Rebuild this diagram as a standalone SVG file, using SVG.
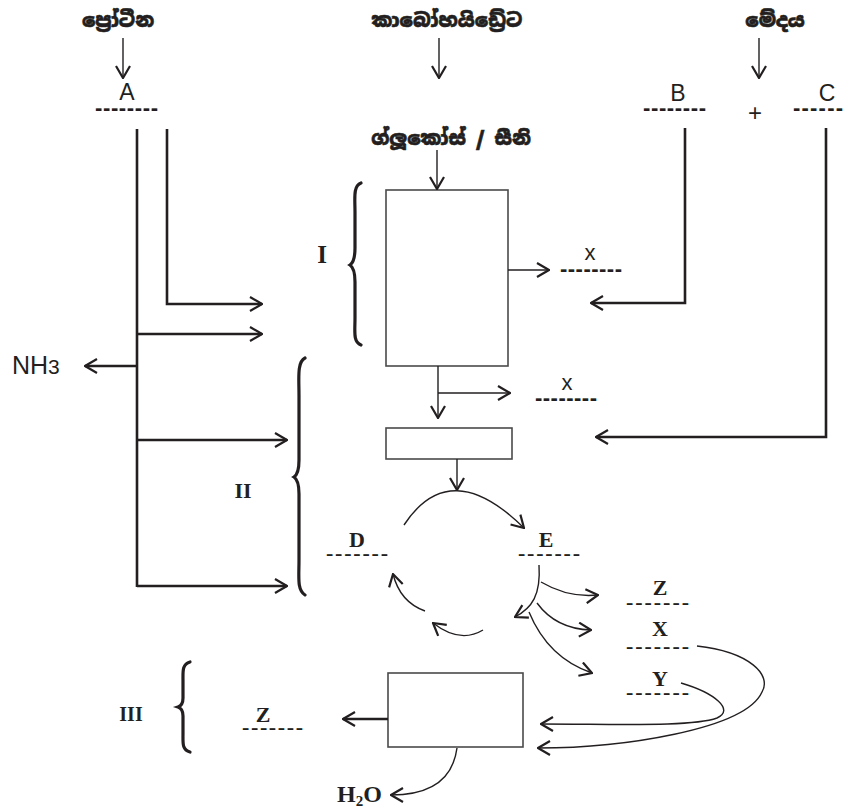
<svg xmlns="http://www.w3.org/2000/svg" width="845" height="809" viewBox="0 0 845 809">
<defs>
<marker id="ah" viewBox="0 0 14 16" refX="13" refY="8" markerWidth="14" markerHeight="16" orient="auto" markerUnits="userSpaceOnUse">
<path d="M1,1 L13,8 L1,15" fill="none" stroke="#231f20" stroke-width="2.2"/>
</marker>
<style>
.si{font-family:"Noto Sans Sinhala","Noto Serif Sinhala","Iskoola Pota",sans-serif;font-weight:900;font-size:19px;fill:#231f20;text-anchor:middle;stroke:#231f20;stroke-width:0.5}
.sans{font-family:"Liberation Sans",Arial,sans-serif;fill:#231f20;text-anchor:middle}
.ser{font-family:"Liberation Serif","Times New Roman",serif;font-weight:bold;fill:#231f20;text-anchor:middle}
.st{text-anchor:start}
.dsans{font-family:"Liberation Sans",Arial,sans-serif;font-weight:bold;font-size:22px;fill:#231f20}
.dser{font-family:"Liberation Serif","Times New Roman",serif;font-weight:bold;font-size:22px;fill:#231f20}
.ln{fill:none;stroke:#231f20;stroke-width:1.4}
.lt{fill:none;stroke:#231f20;stroke-width:2.6}
.bx{fill:#fff;stroke:#4a4a4a;stroke-width:1.6}
.br{fill:none;stroke:#231f20;stroke-width:3.2;stroke-linecap:round}
</style>
</defs>
<rect width="845" height="809" fill="#fff"/>

<g id="protein"><text class="si" x="118" y="27">ප්‍රෝටීන</text></g>
<g id="carbohydrate"><text class="si" x="447" y="27">කාබෝහයිඩ්‍රේට</text></g>
<g id="lipid"><text class="si" x="775" y="27">මේදය</text></g>
<g id="glucose"><text class="si" x="451" y="145">ග්ලූකෝස් / සීනි</text></g>

<g id="nodeA"><text class="sans" x="127" y="100" font-size="23">A</text><text class="dsans" x="95" y="115" textLength="63" lengthAdjust="spacing">--------</text></g>
<g id="nodeB"><text class="sans" x="678" y="101" font-size="23">B</text><text class="dsans" x="643" y="115" textLength="63" lengthAdjust="spacing">--------</text></g>
<g id="plus"><text class="sans" x="755" y="121" font-size="24">+</text></g>
<g id="nodeC"><text class="sans" x="827" y="101" font-size="23">C</text><text class="dsans" x="793" y="115" textLength="50" lengthAdjust="spacing">------</text></g>

<g id="box1"><rect class="bx" x="386" y="190" width="122" height="176"/></g>
<g id="box2"><rect class="bx" x="386" y="428" width="126" height="31"/></g>
<g id="box3"><rect class="bx" x="388" y="673" width="135" height="74"/></g>

<g id="x1"><text class="sans" x="590" y="260" font-size="22">x</text><text class="dsans" x="560" y="276" textLength="62" lengthAdjust="spacing">--------</text></g>
<g id="x2"><text class="sans" x="567" y="390" font-size="22">x</text><text class="dsans" x="535" y="405" textLength="62" lengthAdjust="spacing">--------</text></g>

<g id="nh3"><text class="sans st" x="12" y="374" font-size="25">NH<tspan font-size="21">3</tspan></text></g>

<g id="labelI"><text class="ser" x="322" y="263" font-size="25">I</text></g>
<g id="labelII"><text class="ser" x="243" y="498" font-size="22">II</text></g>
<g id="labelIII"><text class="ser" x="131" y="721" font-size="20">III</text></g>

<g id="nodeD"><text class="ser" x="357" y="547" font-size="22">D</text><text class="dser" x="326" y="560" textLength="62" lengthAdjust="spacing">-------</text></g>
<g id="nodeE"><text class="ser" x="546" y="547" font-size="22">E</text><text class="dser" x="518" y="560" textLength="62" lengthAdjust="spacing">-------</text></g>
<g id="nodeZ"><text class="ser" x="660" y="595" font-size="22">Z</text><text class="dser" x="626" y="609" textLength="63" lengthAdjust="spacing">-------</text></g>
<g id="nodeX"><text class="ser" x="660" y="636" font-size="22">X</text><text class="dser" x="626" y="653" textLength="63" lengthAdjust="spacing">-------</text></g>
<g id="nodeY"><text class="ser" x="660" y="686" font-size="22">Y</text><text class="dser" x="626" y="699" textLength="63" lengthAdjust="spacing">-------</text></g>
<g id="nodeZ2"><text class="ser" x="263" y="722" font-size="22">Z</text><text class="dser" x="242" y="734" textLength="61" lengthAdjust="spacing">-------</text></g>
<g id="h2o"><text class="ser st" x="337" y="802" font-size="24">H<tspan font-size="15" dy="4">2</tspan><tspan dy="-4">O</tspan></text></g>

<g id="braces">
<path class="br" d="M361,183 C353,186 355,198 355,212 L355,248 C355,259 353,263 350,265 C353,267 355,271 355,282 L355,318 C355,332 353,342 361,345"/>
<path class="br" d="M305,358 C297,362 299,378 299,395 L299,460 C299,471 297,475 294,477 C297,479 299,483 299,494 L299,560 C299,578 297,590 305,595"/>
<path class="br" d="M190,662 C182,664 183,672 183,680 L183,698 C183,703 181,706 178,707 C181,708 183,711 183,716 L183,734 C183,743 182,750 190,752"/>
</g>

<g id="connectors">
<line class="ln" x1="123" y1="38" x2="123" y2="78" marker-end="url(#ah)"/>
<line class="ln" x1="439" y1="38" x2="439" y2="78" marker-end="url(#ah)"/>
<line class="ln" x1="759" y1="38" x2="759" y2="78" marker-end="url(#ah)"/>
<line class="ln" x1="437" y1="150" x2="437" y2="189" marker-end="url(#ah)"/>
<line class="ln" x1="508" y1="270" x2="549" y2="270" marker-end="url(#ah)"/>
<polyline class="lt" points="685,128 685,303 591,303" marker-end="url(#ah)"/>
<polyline class="lt" points="826,128 826,437 596,437" marker-end="url(#ah)"/>
<line class="lt" x1="137" y1="129" x2="137" y2="587"/>
<polyline class="lt" points="167,129 167,304 262,304" marker-end="url(#ah)"/>
<line class="lt" x1="137" y1="334" x2="262" y2="334" marker-end="url(#ah)"/>
<line class="lt" x1="137" y1="366" x2="85" y2="366" marker-end="url(#ah)"/>
<line class="lt" x1="137" y1="440" x2="287" y2="440" marker-end="url(#ah)"/>
<line class="lt" x1="137" y1="586" x2="287" y2="586" marker-end="url(#ah)"/>
<line class="ln" x1="438" y1="366" x2="438" y2="418" marker-end="url(#ah)"/>
<line class="ln" x1="438" y1="393" x2="510" y2="393" marker-end="url(#ah)"/>
<line class="ln" x1="457" y1="459" x2="457" y2="490" marker-end="url(#ah)"/>
<path class="ln" d="M404,525 Q450,455 524,528" marker-end="url(#ah)"/>
<path class="ln" d="M539,565 C541,595 532,608 515,617" marker-end="url(#ah)"/>
<path class="ln" d="M541,582 Q568,598 598,595" marker-end="url(#ah)"/>
<path class="ln" d="M537,603 Q556,629 591,630" marker-end="url(#ah)"/>
<path class="ln" d="M529,612 Q548,658 592,673" marker-end="url(#ah)"/>
<path class="ln" d="M425,611 Q400,602 393,574" marker-end="url(#ah)"/>
<path class="ln" d="M483,630 Q460,644 433,623" marker-end="url(#ah)"/>
<path class="ln" d="M697,646 C750,652 772,675 762,692 C745,730 620,748 538,748" marker-end="url(#ah)"/>
<path class="ln" d="M681,683 C715,693 735,710 717,718 C692,727 620,724 541,724" marker-end="url(#ah)"/>
<line class="lt" x1="388" y1="719" x2="343" y2="719" marker-end="url(#ah)"/>
<path class="ln" d="M457,748 C453,778 432,795 391,795" marker-end="url(#ah)"/>
</g>
</svg>
